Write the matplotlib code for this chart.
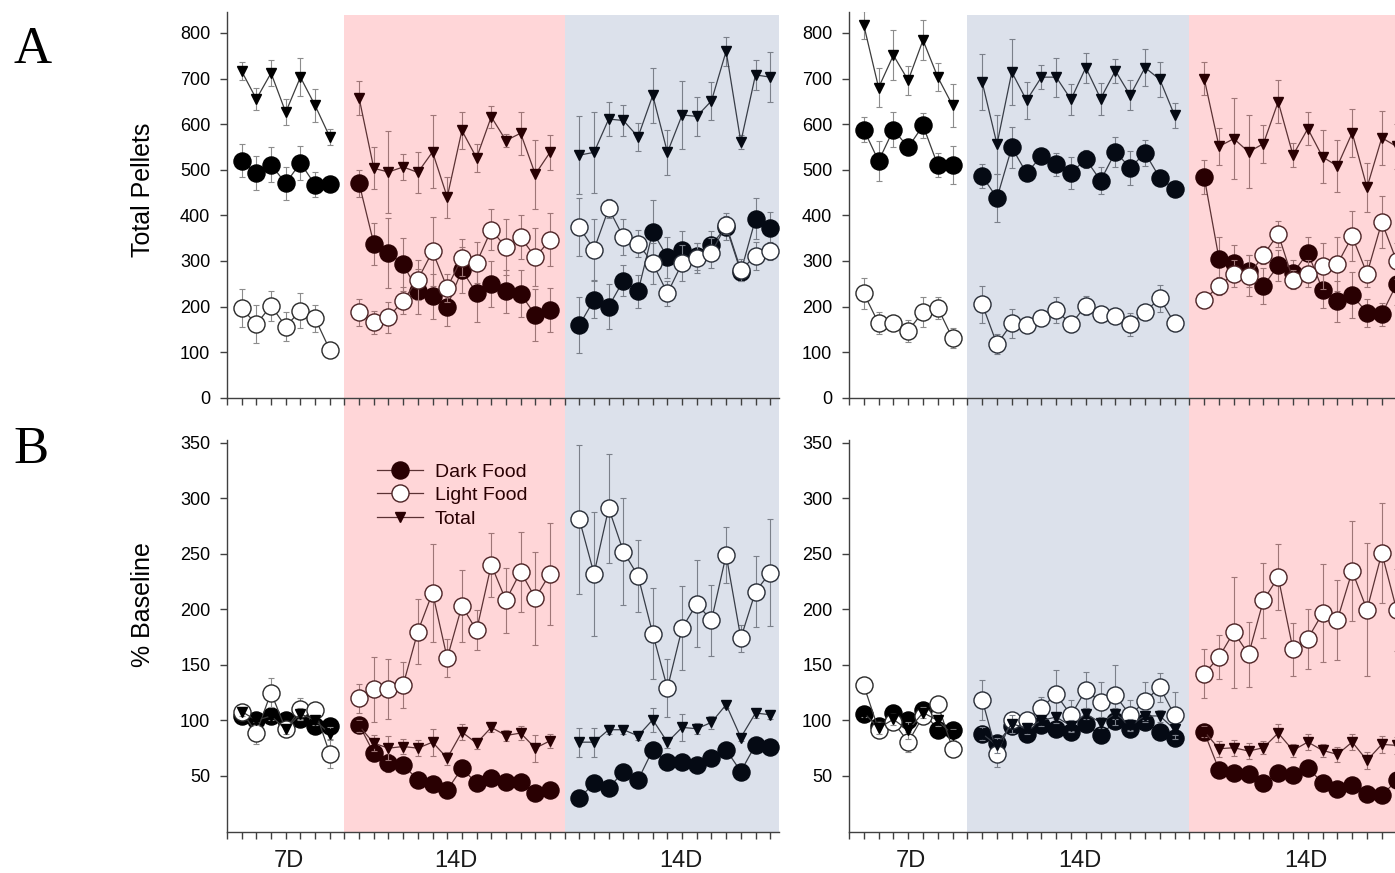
import numpy as np
import matplotlib.pyplot as plt
from matplotlib.colors import to_rgb
from matplotlib.lines import Line2D
from matplotlib.patches import Rectangle
from matplotlib.transforms import blended_transform_factory

plt.rcParams['font.family'] = ['Liberation Sans', 'DejaVu Sans']

# session positions: 7D baseline, then two 14D phases
days = list(range(1, 8)) + list(range(9, 23)) + list(range(24, 38))
phase_labels = ['7D', '14D', '14D']
phase_label_x = [4.2, 15.6, 30.9]

# A, left column (pellets)
dark_a1 = [520, 492, 511, 470, 515, 467, 468,
           470, 338, 317, 293, 233, 222, 200, 280, 229, 249, 233, 228, 181, 192,
           159, 215, 200, 257, 233, 364, 308, 325, 310, 335, 375, 276, 392, 373]
dark_a1_err = [37, 37, 38, 37, 38, 27, 10,
               30, 46, 77, 58, 50, 50, 43, 51, 64, 50, 48, 51, 57, 49,
               62, 40, 50, 35, 36, 70, 45, 40, 30, 30, 30, 20, 45, 35]
light_a1 = [196, 161, 202, 156, 191, 174, 105,
            187, 165, 176, 213, 259, 321, 241, 307, 296, 368, 330, 352, 308, 346,
            374, 325, 415, 352, 338, 295, 229, 295, 306, 318, 379, 280, 311, 322]
light_a1_err = [42, 42, 33, 32, 39, 29, 5,
                29, 26, 34, 30, 44, 76, 31, 40, 45, 45, 62, 48, 64, 58,
                64, 67, 20, 40, 30, 45, 27, 40, 33, 33, 20, 25, 30, 20]
total_a1 = [716, 655, 712, 626, 703, 641, 572,
            657, 503, 495, 506, 494, 539, 440, 586, 526, 616, 564, 580, 490, 538,
            532, 538, 611, 608, 572, 663, 538, 620, 617, 651, 760, 561, 708, 703]
total_a1_err = [20, 24, 29, 29, 41, 37, 17,
                37, 46, 90, 29, 45, 80, 45, 40, 30, 24, 15, 47, 76, 38,
                85, 89, 37, 33, 30, 60, 50, 75, 42, 41, 32, 15, 33, 55]

# A, right column (pellets)
dark_a2 = [588, 519, 588, 549, 597, 510, 510,
           486, 438, 549, 492, 530, 512, 493, 523, 476, 539, 504, 537, 482, 457,
           484, 305, 295, 277, 245, 290, 273, 318, 237, 212, 225, 186, 183, 249]
dark_a2_err = [28, 44, 38, 10, 27, 26, 41,
               26, 52, 45, 15, 15, 25, 35, 20, 29, 32, 38, 29, 15, 15,
               38, 48, 40, 35, 40, 35, 30, 35, 40, 45, 50, 30, 25, 45]
light_a2 = [229, 163, 163, 147, 188, 197, 130,
            205, 117, 163, 159, 174, 192, 161, 202, 183, 179, 161, 188, 218, 163,
            215, 245, 272, 267, 313, 359, 259, 272, 289, 293, 354, 272, 385, 300]
light_a2_err = [34, 24, 10, 24, 33, 24, 22,
                41, 22, 31, 15, 15, 29, 15, 20, 15, 15, 25, 15, 29, 15,
                12, 20, 30, 45, 20, 28, 20, 30, 50, 60, 55, 30, 57, 40]
total_a2 = [817, 680, 751, 696, 784, 703, 641,
            692, 556, 714, 652, 703, 703, 654, 724, 656, 717, 663, 724, 698, 619,
            700, 551, 568, 539, 557, 649, 532, 590, 528, 508, 581, 461, 570, 551]
total_a2_err = [30, 42, 55, 32, 44, 31, 48,
                62, 65, 73, 40, 26, 43, 34, 33, 35, 26, 33, 41, 38, 28,
                36, 40, 89, 80, 42, 47, 27, 36, 58, 57, 53, 54, 59, 50]

# B, left column (% baseline)
dark_b1 = [104, 100, 104, 100, 101, 95, 95,
           96, 70.5, 61.4, 60, 46.4, 42.5, 37.3, 57, 43.4, 48.5, 45, 45, 34.3, 37.3,
           30, 43.4, 39, 54, 46.4, 73.5, 62.3, 63, 60, 66, 73.5, 54, 78, 76.5]
dark_b1_err = [5, 5, 6, 5, 5, 6, 5,
               5, 7, 8, 6, 5, 6, 6, 6, 6, 6, 6, 5, 6, 5,
               6, 5, 5, 5, 5, 6, 5, 5, 5, 5, 5, 5, 5, 5]
light_b1 = [108, 89, 125, 92, 110, 109, 70,
            120, 128, 128, 132, 180, 215, 156, 203, 181, 240, 208, 234, 210, 232,
            281, 232, 291, 252, 230, 178, 129, 183, 205, 190, 249, 174, 216, 233]
light_b1_err = [6, 10, 13, 7, 10, 7, 13,
                13, 29, 27, 21, 29, 44, 17, 32, 18, 29, 29, 36, 42, 46,
                67, 56, 49, 48, 32, 41, 26, 38, 39, 32, 25, 12, 32, 48]
total_b1 = [108, 100, 104, 92, 106, 100, 88,
            95, 79.5, 75, 76.5, 75, 80.4, 66, 89.5, 79.5, 93.7, 86.4, 88.6, 75, 81.6,
            80.4, 80.4, 91.6, 91.6, 86.1, 100.6, 80.4, 93.7, 92.5, 98.2, 114.2, 84.6, 106.6, 105.1]
total_b1_err = [4, 4, 4, 4, 5, 4, 6,
                5, 7, 11, 7, 7, 12, 6, 7, 5, 4, 5, 6, 12, 6,
                13, 13, 4, 4, 4, 11, 5, 12, 5, 6, 3, 3, 4, 4]

# B, right column (% baseline)
dark_b2 = [106, 95, 106.6, 100, 109, 91, 91.6,
           88, 79.6, 95, 88, 95.5, 92.5, 89.5, 96.4, 86.5, 99.4, 92.5, 98.5, 89.5, 84.4,
           89.5, 55.6, 52.6, 51.4, 43.6, 52.6, 50.5, 57.4, 43.6, 38.5, 41.5, 34, 32.5, 46]
dark_b2_err = [5, 5, 5, 5, 5, 5, 5,
               6, 6, 5, 5, 5, 5, 5, 5, 5, 5, 5, 5, 5, 5,
               6, 5, 5, 5, 5, 5, 5, 5, 5, 5, 5, 5, 5, 5]
light_b2 = [131.5, 91.6, 98.5, 80.5, 103.6, 114.4, 74.5,
            118.6, 70, 100, 100, 111.4, 123.4, 104.5, 127.6, 116.5, 122.5, 104.5, 117.4, 130, 104.5,
            142, 157, 179.5, 159.4, 208, 229, 163.9, 173.5, 196.6, 190.6, 234.4, 199.6, 250.6, 199.6]
light_b2_err = [5, 5, 5, 9, 5, 5, 5,
                18, 12, 6, 5, 10, 22, 14, 16, 18, 27, 14, 17, 13, 21,
                22, 20, 50, 29, 34, 30, 24, 27, 44, 36, 45, 60, 45, 37]
total_b2 = [107, 93, 101, 91, 107, 100, 87,
            88, 77.5, 97, 93, 100, 103, 95, 106, 98, 106, 96, 104, 104, 92,
            90, 74.5, 75.4, 72.4, 75.4, 88.6, 73, 80.5, 73, 69.4, 80.5, 64, 78.4, 77.5]
total_b2_err = [4, 5, 5, 8, 5, 5, 5,
                6, 7, 8, 5, 5, 5, 5, 5, 5, 5, 5, 5, 5, 5,
                5, 7, 7, 7, 6, 8, 6, 7, 6, 7, 7, 8, 8, 8]

# translucent overlays used for the two treatment phases
PINK = ((1.0, 0.0, 0.04), 0.16)
BLUE = ((0.125, 0.25, 0.5), 0.157)


def tint(color, shade):
    rgb = np.array(to_rgb(color))
    if shade is None:
        return tuple(rgb)
    oc, a = shade
    return tuple((1 - a) * rgb + a * np.array(oc))


W, H = 1395, 873
fig = plt.figure(figsize=(W / 100, H / 100), dpi=100)


def add_axes_px(left, top, right, bottom):
    return fig.add_axes([left / W, 1 - bottom / H, (right - left) / W, (bottom - top) / H])


XMAX = 37.6
ax_a1 = add_axes_px(227, 12.4, 779, 397.7)
ax_a2 = add_axes_px(849, 12.4, 849 + XMAX * 14.8, 397.7)
ax_b1 = add_axes_px(227, 440.4, 779, 831.5)
ax_b2 = add_axes_px(849, 440.4, 849 + XMAX * 14.8, 831.5)

x = np.array(days)
segments = [slice(0, 7), slice(7, 21), slice(21, 35)]
left_shades = [None, PINK, BLUE]
right_shades = [None, BLUE, PINK]
spans = [(0, 8), (8, 23), (23, XMAX)]

panels = [
    (ax_a1, left_shades, (dark_a1, dark_a1_err), (light_a1, light_a1_err), (total_a1, total_a1_err)),
    (ax_a2, right_shades, (dark_a2, dark_a2_err), (light_a2, light_a2_err), (total_a2, total_a2_err)),
    (ax_b1, left_shades, (dark_b1, dark_b1_err), (light_b1, light_b1_err), (total_b1, total_b1_err)),
    (ax_b2, right_shades, (dark_b2, dark_b2_err), (light_b2, light_b2_err), (total_b2, total_b2_err)),
]

for ax, shades, dark, light, total in panels:
    for sl, shade in zip(segments, shades):
        xs = x[sl]
        line_c = tint('#3c3c3c', shade)
        err_c = tint('#8c8c8c', shade)
        ink = tint('black', shade)
        # dark food
        v, e = np.array(dark[0])[sl], np.array(dark[1])[sl]
        ax.errorbar(xs, v, yerr=e, fmt='none', ecolor=err_c, elinewidth=0.8,
                    capsize=2, capthick=0.8, zorder=1.5)
        ax.plot(xs, v, color=line_c, lw=0.9, marker='o', ms=12.3, mfc=ink, mec=ink,
                mew=1, zorder=2)
        # light food
        v, e = np.array(light[0])[sl], np.array(light[1])[sl]
        ax.errorbar(xs, v, yerr=e, fmt='none', ecolor=err_c, elinewidth=0.8,
                    capsize=2, capthick=0.8, zorder=2.5)
        ax.plot(xs, v, color=line_c, lw=0.9, marker='o', ms=12.3, mfc='white',
                mec=tint('#2a2a2a', shade), mew=1, zorder=3)
        # total
        v, e = np.array(total[0])[sl], np.array(total[1])[sl]
        ax.errorbar(xs, v, yerr=e, fmt='none', ecolor=err_c, elinewidth=0.8,
                    capsize=2, capthick=0.8, zorder=3.5)
        ax.plot(xs, v, color=line_c, lw=0.9, marker='v', ms=6.5, mfc=ink, mec=ink,
                zorder=4)

    ax.set_xlim(0, XMAX)
    ax.set_facecolor('none')
    ax.set_xticks(range(0, 38))
    ax.set_xticklabels([])
    for side in ['top', 'right']:
        ax.spines[side].set_visible(False)
    for side in ['left', 'bottom']:
        ax.spines[side].set_color('#404040')
        ax.spines[side].set_linewidth(1)
    ax.tick_params(direction='out', length=5, width=1, color='#404040',
                   labelsize=13, pad=7)

for ax in (ax_a1, ax_a2):
    ax.set_ylim(0, 845)
    ax.set_yticks(range(0, 801, 100))
for ax in (ax_b1, ax_b2):
    ax.set_ylim(0, 352)
    ax.set_yticks(range(50, 351, 50))
    for lx, lab in zip(phase_label_x, phase_labels):
        ax.annotate(lab, xy=(lx, 0), xycoords=('data', 'axes fraction'),
                    xytext=(0, -21), textcoords='offset points',
                    ha='center', va='center', fontsize=17, color='#1a1a1a')

ax_a1.set_ylabel('Total Pellets', fontsize=18)
ax_a1.yaxis.set_label_coords(-0.13, 0.539)
ax_b1.set_ylabel('% Baseline', fontsize=18)
ax_b1.yaxis.set_label_coords(-0.13, 0.579)

# phase shading runs through both rows of each column
y0, y1 = 1 - 831.5 / H, 1 - 14.7 / H
for ax, shades in ((ax_a1, left_shades), (ax_a2, right_shades)):
    trans = blended_transform_factory(ax.transData, fig.transFigure)
    for (s0, s1), shade in zip(spans, shades):
        if shade is None:
            continue
        fig.add_artist(Rectangle((s0, y0), s1 - s0, y1 - y0, transform=trans,
                                 facecolor=tint('white', shade), edgecolor='none',
                                 zorder=-1))

# legend
ink = tint('black', PINK)
lc = tint('#3c3c3c', PINK)
handles = [
    Line2D([], [], color=lc, lw=0.9, marker='o', ms=12.3, mfc=ink, mec=ink),
    Line2D([], [], color=lc, lw=0.9, marker='o', ms=12.3, mfc='white', mec=tint('#2a2a2a', PINK)),
    Line2D([], [], color=lc, lw=0.9, marker='v', ms=6.5, mfc=ink, mec=ink),
]
ax_b1.legend(handles, ['Dark Food', 'Light Food', 'Total'], loc='upper left',
             bbox_to_anchor=((376.7 - 227) / 552, (831.5 - 463) / 391.1),
             frameon=False, fontsize=14, handlelength=2.4, handletextpad=0.6,
             labelspacing=0.3, borderpad=0, borderaxespad=0, labelcolor=ink)

fig.text(33 / W, 1 - 50 / H, 'A', family='Liberation Serif', fontsize=38,
         ha='center', va='center')
fig.text(31 / W, 1 - 450 / H, 'B', family='Liberation Serif', fontsize=38,
         ha='center', va='center')

fig.savefig('out.png', dpi=100)
